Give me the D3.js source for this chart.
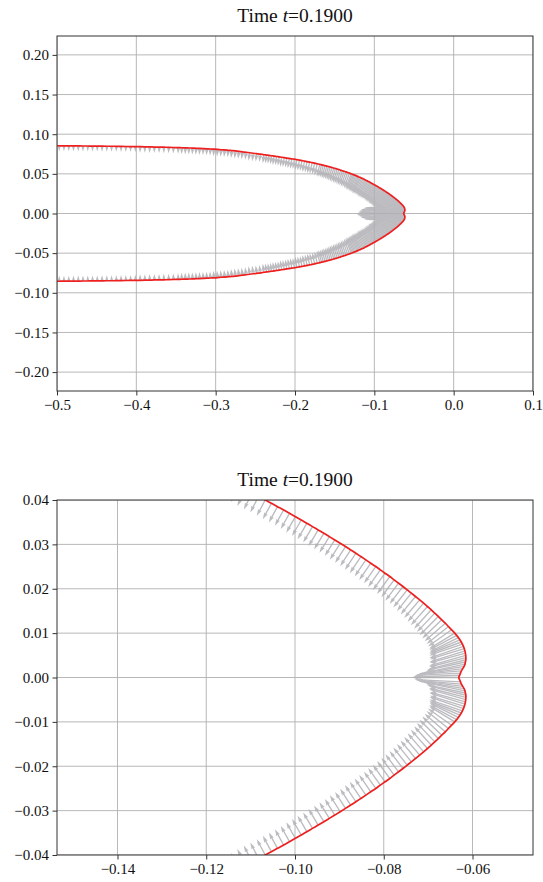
<!DOCTYPE html>
<html><head><meta charset="utf-8">
<script src="https://cdn.jsdelivr.net/npm/d3@7"></script>
<style>
body{margin:0;background:#fff}
svg{display:block}
</style>
</head><body>
<svg id="chart" width="543" height="882"></svg>
<script>
// ---------------- data ----------------
const timeLabel = "0.1900";

// upper half of the front, ordered from the far left to the tip (y = 0)
const upperX = [-0.5032,-0.4972,-0.4912,-0.4852,-0.4792,-0.4732,-0.4672,-0.4612,-0.4552,
-0.4492,-0.4432,-0.4372,-0.4312,-0.4252,-0.4192,-0.4132,
-0.4072,-0.4012,-0.3952,-0.3892,-0.3832,-0.3772,-0.3712,
-0.3652,-0.3592,-0.3532,-0.3472,-0.3427,-0.3382,-0.3337,
-0.3292,-0.3247,-0.3202,-0.3157,-0.3112,-0.3067,-0.3022,
-0.2977,-0.2932,-0.2887,-0.2842,-0.2797,
-0.2752,-0.2707,-0.2662,-0.2617,-0.2572,-0.2527,
-0.2482,-0.2437,-0.2392,-0.2360,-0.2328,-0.2296,-0.2264,
-0.2232,-0.2200,-0.2168,-0.2136,-0.2104,-0.2072,-0.2040,-0.2008,
-0.1976,-0.1944,-0.1912,-0.1880,-0.1848,-0.1816,-0.1784,
-0.1752,-0.1720,-0.1688,-0.1666,-0.1644,-0.1622,
-0.1600,-0.1578,-0.1556,-0.1534,-0.1512,-0.1490,-0.1468,
-0.1446,-0.1424,-0.1402,-0.1380,-0.1358,
-0.1336,-0.1314,-0.1292,-0.1277,-0.1262,-0.1247,
-0.1232,-0.1217,-0.1202,-0.1187,-0.1172,-0.1157,
-0.1142,-0.1127,-0.1112,-0.1097,-0.1082,
-0.1067,-0.10532,-0.10394,-0.10256,-0.10124,-0.09991,-0.09859,-0.09733,-0.09605,-0.09478,
-0.0935,-0.09226,-0.09103,-0.08981,-0.08862,-0.08745,-0.08628,-0.08515,-0.08403,-0.08292,
-0.0818,-0.08077,-0.07971,-0.07865,-0.07766,-0.07666,-0.07567,-0.07471,-0.07378,-0.07284,
-0.0719,-0.07101,-0.07015,-0.06929,-0.0685,-0.06771,-0.06693,-0.06614,-0.06543,-0.06471,-0.064,
-0.06357,-0.06319,-0.06284,-0.06253,-0.06227,-0.06204,-0.06185,-0.0617,-0.0616,-0.06153,
-0.0615,-0.0615,-0.0616,-0.0617,-0.0619,-0.0622,-0.0625,-0.0627,-0.0629,
-0.0631];
const upperY = [0.0854,0.0854,0.0853,0.0853,0.0852,0.0852,0.0851,0.0851,0.0850,
0.0850,0.0849,0.0848,0.0848,0.0847,0.0846,0.0845,
0.0844,0.0843,0.0842,0.0841,0.0840,0.0838,0.0837,
0.0836,0.0834,0.0832,0.0830,0.0829,0.0827,0.0826,
0.0825,0.0822,0.0820,0.0818,0.0816,0.0813,0.0811,
0.0808,0.0804,0.0801,0.0797,0.0793,
0.0789,0.0783,0.0778,0.0772,0.0766,0.0760,
0.0754,0.0748,0.0741,0.0737,0.0733,0.0728,0.0724,
0.0719,0.0714,0.0709,0.0704,0.0699,0.0694,0.0689,0.0685,
0.0679,0.0673,0.0667,0.0661,0.0654,0.0648,0.0642,
0.0635,0.0627,0.0619,0.0614,0.0609,0.0604,
0.0598,0.0592,0.0586,0.0580,0.0573,0.0567,0.0561,
0.0554,0.0547,0.0539,0.0532,0.0525,
0.0517,0.0509,0.0501,0.0495,0.0489,0.0484,
0.0478,0.0471,0.0465,0.0458,0.0452,0.0445,
0.0439,0.0431,0.0423,0.0415,0.0408,
0.04,0.03925,0.0385,0.03775,0.037,0.03625,0.0355,0.03475,0.034,0.03325,
0.0325,0.03175,0.031,0.03025,0.0295,0.02875,0.028,0.02725,0.0265,0.02575,
0.025,0.02425,0.0235,0.02275,0.022,0.02125,0.0205,0.01975,0.019,0.01825,
0.0175,0.01675,0.016,0.01525,0.0145,0.01375,0.013,0.01225,0.0115,0.01075,0.01,
0.0095,0.009,0.0085,0.008,0.0075,0.007,0.0065,0.006,0.0055,0.005,
0.0045,0.004,0.0035,0.003,0.0025,0.002,0.0015,0.001,0.0005,
0];
// normal speed of the front (quiver magnitude) at each upper point
const upperSpeed = [5.5,5.5,5.5,5.5,5.5,5.5,5.5,5.5,5.5,
5.5,5.5,5.5,5.5,5.5,5.5,5.5,
5.5,5.5,6,6,6,6,6,
6,6,6,6,6.5,6.5,6.5,
6.5,6.5,6.5,6.5,6.5,6.5,7,
7,7,7,7,7.5,
7.5,7.5,7.5,7.5,8,8,
8,8,8.5,8.5,8.5,8.5,9,
9,9,9.5,9.5,9.5,10,10,10,
10.5,10.5,10.5,11,11,11.5,11.5,
11.5,12,12.5,12.5,12.5,13,
13,13,13.5,13.5,14,14,14.5,
14.5,14.5,15,15,15.5,
15.5,16,16,16.5,16.5,16.5,
17,17,17,17.5,17.5,17.5,
17.5,17.5,18,18,18,
18,18,18,18,18,18.5,18.5,18.5,18.5,19,
19,19,19,19.5,19.5,19.5,20,20,20,20.5,
20.5,21,21,21.5,21.5,22,22,22.5,23,23.5,
24,24.5,25,25.5,26,26.5,27,27.5,28,29,30,
31,32,33,34,35,36,36,37,37,38,
38,39,40,41,42,44,45,46,47,
47];

// lower half of the front, ordered from the far left to the tip (y = 0 excluded)
const lowerX = [-0.5032,-0.4972,-0.4912,-0.4852,-0.4792,-0.4732,-0.4672,-0.4612,-0.4552,
-0.4492,-0.4432,-0.4372,-0.4312,-0.4252,-0.4192,-0.4132,
-0.4072,-0.4012,-0.3952,-0.3892,-0.3832,-0.3772,-0.3712,
-0.3652,-0.3592,-0.3532,-0.3472,-0.3427,-0.3382,-0.3337,
-0.3292,-0.3247,-0.3202,-0.3157,-0.3112,-0.3067,-0.3022,
-0.2977,-0.2932,-0.2887,-0.2842,-0.2797,
-0.2752,-0.2707,-0.2662,-0.2617,-0.2572,-0.2527,
-0.2482,-0.2437,-0.2392,-0.2360,-0.2328,-0.2296,-0.2264,
-0.2232,-0.2200,-0.2168,-0.2136,-0.2104,-0.2072,-0.2040,-0.2008,
-0.1976,-0.1944,-0.1912,-0.1880,-0.1848,-0.1816,-0.1784,
-0.1752,-0.1720,-0.1688,-0.1666,-0.1644,-0.1622,
-0.1600,-0.1578,-0.1556,-0.1534,-0.1512,-0.1490,-0.1468,
-0.1446,-0.1424,-0.1402,-0.1380,-0.1358,
-0.1336,-0.1314,-0.1292,-0.1277,-0.1262,-0.1247,
-0.1232,-0.1217,-0.1202,-0.1187,-0.1172,-0.1157,
-0.1142,-0.1127,-0.1112,-0.1097,-0.1082,
-0.1067,-0.10532,-0.10394,-0.10256,-0.10124,-0.09991,-0.09859,-0.09733,-0.09605,-0.09478,
-0.0935,-0.09226,-0.09103,-0.08981,-0.08862,-0.08745,-0.08628,-0.08515,-0.08403,-0.08292,
-0.0818,-0.08077,-0.07971,-0.07865,-0.07766,-0.07666,-0.07567,-0.07471,-0.07378,-0.07284,
-0.0719,-0.07101,-0.07015,-0.06929,-0.0685,-0.06771,-0.06693,-0.06614,-0.06543,-0.06471,-0.064,
-0.06357,-0.06319,-0.06284,-0.06253,-0.06227,-0.06204,-0.06185,-0.0617,-0.0616,-0.06153,
-0.0615,-0.0615,-0.0616,-0.0617,-0.0619,-0.0622,-0.0625,-0.0627,-0.0629];
const lowerY = [-0.0854,-0.0854,-0.0853,-0.0853,-0.0852,-0.0852,-0.0851,-0.0851,-0.0850,
-0.0850,-0.0849,-0.0848,-0.0848,-0.0847,-0.0846,-0.0845,
-0.0844,-0.0843,-0.0842,-0.0841,-0.0840,-0.0838,-0.0837,
-0.0836,-0.0834,-0.0832,-0.0830,-0.0829,-0.0827,-0.0826,
-0.0825,-0.0822,-0.0820,-0.0818,-0.0816,-0.0813,-0.0811,
-0.0808,-0.0804,-0.0801,-0.0797,-0.0793,
-0.0789,-0.0783,-0.0778,-0.0772,-0.0766,-0.0760,
-0.0754,-0.0748,-0.0741,-0.0737,-0.0733,-0.0728,-0.0724,
-0.0719,-0.0714,-0.0709,-0.0704,-0.0699,-0.0694,-0.0689,-0.0685,
-0.0679,-0.0673,-0.0667,-0.0661,-0.0654,-0.0648,-0.0642,
-0.0635,-0.0627,-0.0619,-0.0614,-0.0609,-0.0604,
-0.0598,-0.0592,-0.0586,-0.0580,-0.0573,-0.0567,-0.0561,
-0.0554,-0.0547,-0.0539,-0.0532,-0.0525,
-0.0517,-0.0509,-0.0501,-0.0495,-0.0489,-0.0484,
-0.0478,-0.0471,-0.0465,-0.0458,-0.0452,-0.0445,
-0.0439,-0.0431,-0.0423,-0.0415,-0.0408,
-0.04,-0.03925,-0.0385,-0.03775,-0.037,-0.03625,-0.0355,-0.03475,-0.034,-0.03325,
-0.0325,-0.03175,-0.031,-0.03025,-0.0295,-0.02875,-0.028,-0.02725,-0.0265,-0.02575,
-0.025,-0.02425,-0.0235,-0.02275,-0.022,-0.02125,-0.0205,-0.01975,-0.019,-0.01825,
-0.0175,-0.01675,-0.016,-0.01525,-0.0145,-0.01375,-0.013,-0.01225,-0.0115,-0.01075,-0.01,
-0.0095,-0.009,-0.0085,-0.008,-0.0075,-0.007,-0.0065,-0.006,-0.0055,-0.005,
-0.0045,-0.004,-0.0035,-0.003,-0.0025,-0.002,-0.0015,-0.001,-0.0005];
const lowerSpeed = [5.5,5.5,5.5,5.5,5.5,5.5,5.5,5.5,5.5,
5.5,5.5,5.5,5.5,5.5,5.5,5.5,
5.5,5.5,6,6,6,6,6,
6,6,6,6,6.5,6.5,6.5,
6.5,6.5,6.5,6.5,6.5,6.5,7,
7,7,7,7,7.5,
7.5,7.5,7.5,7.5,8,8,
8,8,8.5,8.5,8.5,8.5,9,
9,9,9.5,9.5,9.5,10,10,10,
10.5,10.5,10.5,11,11,11.5,11.5,
11.5,12,12.5,12.5,12.5,13,
13,13,13.5,13.5,14,14,14.5,
14.5,14.5,15,15,15.5,
15.5,16,16,16.5,16.5,16.5,
17,17,17,17.5,17.5,17.5,
17.5,17.5,18,18,18,
18,18,18,18,18,18.5,18.5,18.5,18.5,19,
19,19,19,19.5,19.5,19.5,20,20,20,20.5,
20.5,21,21,21.5,21.5,22,22,22.5,23,23.5,
24,24.5,25,25.5,26,26.5,27,27.5,28,29,30,
31,32,33,34,35,36,36,37,37,38,
38,39,40,41,42,44,45,46];

// axis limits and tick values
const overviewXLim = [-0.5, 0.1];
const overviewYLim = [-0.2238, 0.2238];
const overviewXTicks = [-0.5, -0.4, -0.3, -0.2, -0.1, 0.0, 0.1];
const overviewYTicks = [-0.20, -0.15, -0.10, -0.05, 0.00, 0.05, 0.10, 0.15, 0.20];
const zoomXLim = [-0.15363, -0.04637];
const zoomYLim = [-0.04, 0.04];
const zoomXTicks = [-0.14, -0.12, -0.10, -0.08, -0.06];
const zoomYTicks = [-0.04, -0.03, -0.02, -0.01, 0.00, 0.01, 0.02, 0.03, 0.04];

// ---------------- build the front ----------------
const front = upperX.map((x, i) => ({x, y: upperY[i], s: upperSpeed[i]}))
  .concat(lowerX.map((x, i) => ({x, y: lowerY[i], s: lowerSpeed[i]})).reverse());

// inward normal of the front (tangent taken over a short arc on each side)
const arc = [0];
for (let i = 1; i < front.length; i++)
  arc.push(arc[i-1] + Math.hypot(front[i].x - front[i-1].x, front[i].y - front[i-1].y));
const R = 0.008;
front.forEach((p, i) => {
  let a = i, b = i;
  while (a > 0 && arc[i] - arc[a] < R) a--;
  while (b < front.length - 1 && arc[b] - arc[i] < R) b++;
  const tx = front[b].x - front[a].x, ty = front[b].y - front[a].y;
  const m = Math.hypot(tx, ty);
  p.nx = ty / m; p.ny = -tx / m;
});

// ---------------- drawing ----------------
const svg = d3.select("#chart");
const FONT = "'Liberation Serif','Times New Roman',serif";
const LEFT = 57, W = 476, H = 355;
const quiverScale = d3.scaleLinear().domain([0, 50]).range([0, 50]);

function arrowPath(px, py, dx, dy, L) {
  const w = 1.35, hl = 5 * w, hal = 4.5 * w, hw = 1.5 * w, sw = 0.5 * w;
  let s = 1, len = L;
  if (L < hl) { s = L / hl; len = hl; }
  const pts = [[0,-sw],[len-hal,-sw],[len-hl,-hw],[len,0],[len-hl,hw],[len-hal,sw],[0,sw]];
  const ox = -dy, oy = dx;
  return "M" + pts.map(([u, v]) => {
    u *= s; v *= s;
    return (px + u*dx + v*ox).toFixed(2) + "," + (py + u*dy + v*oy).toFixed(2);
  }).join("L") + "Z";
}

function panel(o, id) {
  const x = d3.scaleLinear().domain(o.xlim).range([LEFT, LEFT + W]);
  const y = d3.scaleLinear().domain(o.ylim).range([o.top + H, o.top]);
  const g = svg.append("g");

  g.append("clipPath").attr("id", id).append("rect")
    .attr("x", LEFT).attr("y", o.top).attr("width", W).attr("height", H);

  const plot = g.append("g").attr("clip-path", `url(#${id})`);

  // quiver arrows
  plot.append("g").selectAll("path").data(front).join("path")
    .attr("d", p => arrowPath(x(p.x), y(p.y), p.nx, -p.ny, quiverScale(p.s)))
    .attr("fill", "#bcbcc0");

  // grid
  plot.append("g").selectAll("line").data(o.xt).join("line")
    .attr("x1", d => x(d)).attr("x2", d => x(d))
    .attr("y1", o.top).attr("y2", o.top + H)
    .attr("stroke", "#b0b0b0").attr("stroke-width", 0.9);
  plot.append("g").selectAll("line").data(o.yt).join("line")
    .attr("y1", d => y(d)).attr("y2", d => y(d))
    .attr("x1", LEFT).attr("x2", LEFT + W)
    .attr("stroke", "#b0b0b0").attr("stroke-width", 0.9);

  // front line
  plot.append("path").datum(front)
    .attr("d", d3.line().curve(d3.curveCatmullRom).x(p => x(p.x)).y(p => y(p.y)))
    .attr("fill", "none").attr("stroke", "#ee1f1f").attr("stroke-width", 1.7)
    .attr("stroke-linejoin", "round");

  // axes
  const ax = g.append("g").attr("transform", `translate(0,${o.top + H})`)
    .call(d3.axisBottom(x).tickValues(o.xt).tickFormat(d3.format(o.xf))
      .tickSizeInner(4.5).tickSizeOuter(0).tickPadding(3.5));
  const ay = g.append("g").attr("transform", `translate(${LEFT},0)`)
    .call(d3.axisLeft(y).tickValues(o.yt).tickFormat(d3.format(o.yf))
      .tickSizeInner(4.5).tickSizeOuter(0).tickPadding(3.5));
  [ax, ay].forEach(a => {
    a.select(".domain").remove();
    a.attr("font-family", FONT).attr("font-size", 15);
    a.selectAll("line").attr("stroke", "#333").attr("stroke-width", 1);
    a.selectAll("text").attr("fill", "#111");
  });

  // spines
  g.append("rect").attr("x", LEFT).attr("y", o.top).attr("width", W).attr("height", H)
    .attr("fill", "none").attr("stroke", "#333").attr("stroke-width", 1);

  // title
  const t = g.append("text").attr("x", LEFT + W / 2).attr("y", o.top - 14)
    .attr("text-anchor", "middle").attr("font-family", FONT).attr("font-size", 19.5)
    .attr("fill", "#111");
  t.append("tspan").text("Time ");
  t.append("tspan").attr("font-style", "italic").text("t");
  t.append("tspan").text("=" + timeLabel);
}

panel({xlim: overviewXLim, ylim: overviewYLim, xt: overviewXTicks, yt: overviewYTicks,
       xf: ".1f", yf: ".2f", top: 36}, "clipTop");
panel({xlim: zoomXLim, ylim: zoomYLim, xt: zoomXTicks, yt: zoomYTicks,
       xf: ".2f", yf: ".2f", top: 500}, "clipBottom");
</script>
</body></html>
